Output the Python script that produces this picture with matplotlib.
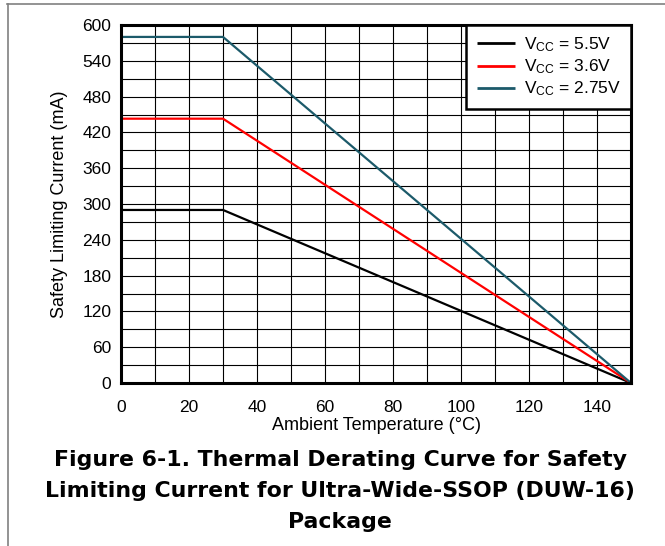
import matplotlib
matplotlib.use('Agg')
import matplotlib.pyplot as plt
from matplotlib.lines import Line2D
from matplotlib.ticker import MultipleLocator

plt.rcParams['font.family'] = ['Liberation Sans', 'DejaVu Sans']
plt.rcParams['mathtext.fontset'] = 'custom'
plt.rcParams['mathtext.rm'] = 'Liberation Sans'
plt.rcParams['mathtext.it'] = 'Liberation Sans'

# ambient temperature (°C) and safety limiting current (mA)
temp = [0, 30, 150]
i_55 = [290, 290, 0]
i_36 = [443, 443, 0]
i_275 = [580, 580, 0]

labels = [r'V$_{\mathrm{CC}}$ = 5.5V', r'V$_{\mathrm{CC}}$ = 3.6V', r'V$_{\mathrm{CC}}$ = 2.75V']
colors = ['#000000', '#ff0000', '#1c5a6a']

caption = ['Figure 6-1. Thermal Derating Curve for Safety',
           'Limiting Current for Ultra-Wide-SSOP (DUW-16)',
           'Package']

W, H = 665, 546
fig = plt.figure(figsize=(W / 100, H / 100), dpi=100)
ax = fig.add_axes([121 / W, 1 - 383 / H, 510 / W, 358 / H])

for y, lab, c in zip([i_55, i_36, i_275], labels, colors):
    ax.plot(temp, y, color=c, lw=1.6, label=lab, solid_capstyle='butt')

ax.set_xlim(0, 150)
ax.set_ylim(0, 600)
ax.xaxis.set_major_locator(MultipleLocator(20))
ax.xaxis.set_minor_locator(MultipleLocator(10))
ax.yaxis.set_major_locator(MultipleLocator(60))
ax.yaxis.set_minor_locator(MultipleLocator(30))
ax.grid(which='both', color='black', lw=0.8)
ax.set_axisbelow(True)
ax.tick_params(which='both', length=0, labelsize=12.5)
ax.tick_params(axis='y', pad=7)
ax.tick_params(axis='x', pad=12)
for s in ax.spines.values():
    s.set_linewidth(2.2)

ax.set_xlabel('Ambient Temperature (°C)', fontsize=13, labelpad=2)
ax.set_ylabel('Safety Limiting Current (mA)', fontsize=13, labelpad=10)

leg = ax.legend(loc='upper right', fontsize=12.5, borderaxespad=0, fancybox=False,
                framealpha=1, edgecolor='black', handlelength=2.2, handletextpad=0.5,
                labelspacing=0.2, borderpad=0.6)
leg.get_frame().set_linewidth(1.8)
for h in leg.get_lines():
    h.set_linewidth(2.0)

for k, line in enumerate(caption):
    fig.text(340 / W, 1 - (466 + 31 * k) / H, line, ha='center', va='baseline',
             fontsize=15.8, fontweight='bold', family='DejaVu Sans')

# page border lines
fig.add_artist(Line2D([7 / W, 1], [1 - 3.5 / H, 1 - 3.5 / H], color='#808080', lw=1.2))
fig.add_artist(Line2D([7.5 / W, 7.5 / W], [0, 1 - 3.5 / H], color='#808080', lw=1.2))

fig.savefig('out.png', dpi=100)
